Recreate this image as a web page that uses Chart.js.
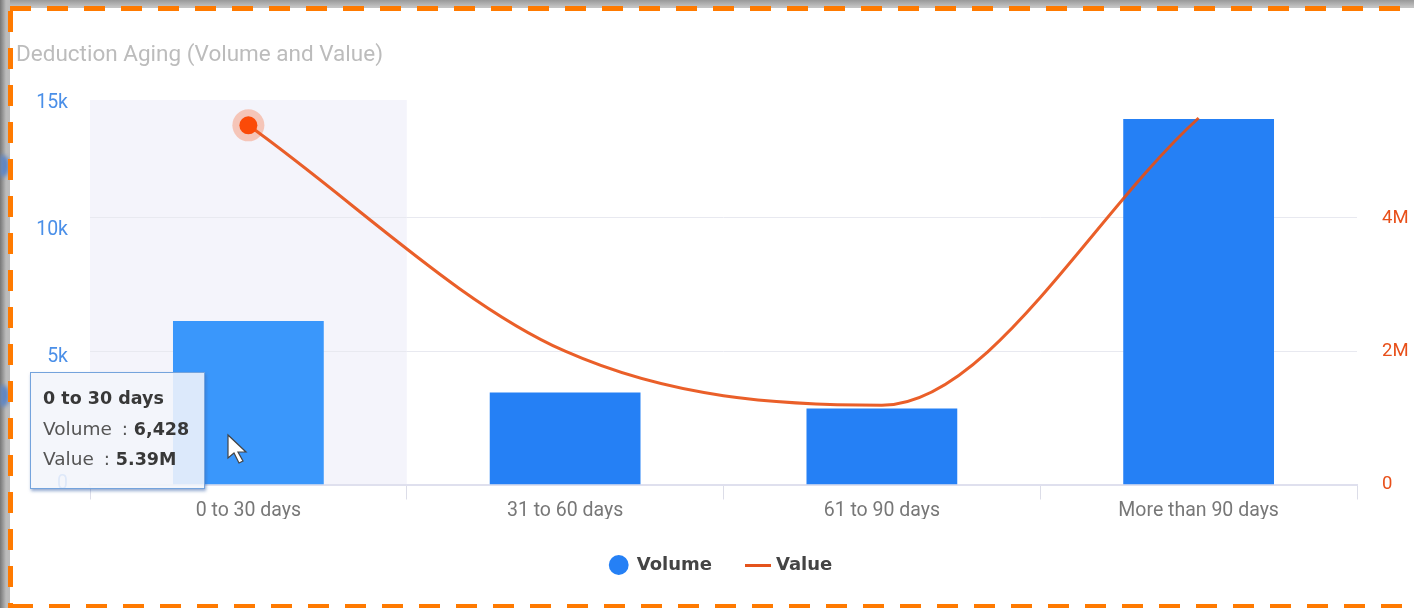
<!DOCTYPE html>
<html>
<head>
<meta charset="utf-8">
<script src="https://cdn.jsdelivr.net/npm/chart.js@4"></script>
<style>
  html, body { margin: 0; padding: 0; width: 1414px; height: 608px; overflow: hidden; background: #9a9a9a; }
  #shade { position: absolute; left: 0; top: 0; width: 1414px; height: 608px;
    background: linear-gradient(90deg, #777 0, #bbb 6px, #bbb 10px, transparent 10px),
                linear-gradient(180deg, #999 0, #c4c4c4 7px, #c4c4c4 8px, transparent 8px); }
  #card { position: absolute; left: 10px; top: 8px; width: 1404px; height: 600px; background: #fff; }
  canvas { position: absolute; left: 0; top: 0; }
  .dash { position: absolute; }
  .blob { position: absolute; left: 0; width: 9px; height: 22px; border-radius: 0 8px 8px 0; background: #5f86c4; filter: blur(2px); }
  #dashTop { left: 10px; top: 6px; width: 1404px; height: 5px;
    background: repeating-linear-gradient(90deg, #ff7a00 0 21px, transparent 21px 37px); }
  #dashBottom { left: 12px; top: 604px; width: 1402px; height: 4px;
    background: repeating-linear-gradient(90deg, #ff7a00 0 21px, transparent 21px 37px); }
  #dashLeft { left: 8px; top: 11px; width: 5px; height: 597px;
    background: repeating-linear-gradient(180deg, #ff7a00 0 21px, transparent 21px 37px); }
  #tip { position: absolute; left: 30px; top: 372px; width: 175px; height: 117px; box-sizing: border-box;
    padding: 10px 12px; background: rgba(243,245,251,0.88); border: 1.5px solid #74a3dc;
    box-shadow: 1px 2px 3px rgba(60,100,170,0.55); font: 18.5px/30.5px "DejaVu Sans", sans-serif; color: #555; white-space: nowrap; }
  #tip b { color: #383838; font-size: 17.5px; }
  #tip i { font-style: normal; margin-left: 4px; }
  #cursor { position: absolute; left: 226px; top: 433px; }
</style>
</head>
<body>
<div id="shade"></div>
<div class="blob" style="top:155px"></div>
<div class="blob" style="top:385px"></div>
<div id="card"></div>
<canvas id="chart" width="1414" height="608"></canvas>
<div class="dash" id="dashTop"></div>
<div class="dash" id="dashBottom"></div>
<div class="dash" id="dashLeft"></div>
<div id="tip"></div>
<svg id="cursor" width="24" height="32"><path d="M2 2 L2 25 L8 20 L13 30 L17 28 L12 19 L20 19 Z" fill="#fff" stroke="#444" stroke-width="1.2"/></svg>
<script>
const categories = ["0 to 30 days", "31 to 60 days", "61 to 90 days", "More than 90 days"];
const volume = [6428, 3620, 2990, 14370];
const value = [5390000, 2000000, 1190000, 5500000];
const volumeTicks = [0, 5000, 10000, 15000];
const valueTicks = [0, 2000000, 4000000];
const hoverIndex = 0;

const orange = "rgba(232,78,18,0.9)";

// legend swatch for the line series is wider than the circle
const lineSwatch = document.createElement("canvas");
lineSwatch.width = 26;
lineSwatch.height = 4;
const sw = lineSwatch.getContext("2d");
sw.fillStyle = "#e4531c";
sw.fillRect(0, 1, 26, 3);

const hoverPlugin = {
  id: "hoverPlugin",
  afterLayout(chart) {
    // legend sits right of the page centre in the original
    chart.legend.left += 9;
    chart.legend.right += 9;
  },
  beforeDraw(chart) {
    const { ctx, chartArea, scales } = chart;
    const step = scales.x.width / categories.length;
    const cx = scales.x.getPixelForValue(hoverIndex);
    ctx.save();
    ctx.fillStyle = "#f4f4fb";
    ctx.fillRect(cx - step / 2, chartArea.top, step, chartArea.bottom - chartArea.top);
    ctx.restore();
  },
  afterDatasetsDraw(chart) {
    const pt = chart.getDatasetMeta(1).data[hoverIndex];
    const ctx = chart.ctx;
    ctx.save();
    ctx.fillStyle = "rgba(248,90,30,0.3)";
    ctx.beginPath();
    ctx.arc(pt.x, pt.y, 16, 0, Math.PI * 2);
    ctx.fill();
    ctx.fillStyle = "#fb4a08";
    ctx.beginPath();
    ctx.arc(pt.x, pt.y, 9, 0, Math.PI * 2);
    ctx.fill();
    ctx.restore();
  }
};

new Chart(document.getElementById("chart"), {
  data: {
    labels: categories,
    datasets: [
      {
        type: "bar",
        label: "Volume",
        data: volume,
        yAxisID: "yVolume",
        order: 2,
        backgroundColor: (c) => (c.dataIndex === hoverIndex ? "#3a97fb" : "#2580f5"),
        categoryPercentage: 1,
        barPercentage: 0.476
      },
      {
        type: "line",
        label: "Value",
        data: value,
        yAxisID: "yValue",
        order: 1,
        borderColor: orange,
        borderWidth: 3,
        cubicInterpolationMode: "monotone",
        pointRadius: 0,
        fill: false
      }
    ]
  },
  options: {
    responsive: false,
    animation: false,
    devicePixelRatio: 1,
    layout: { padding: { left: 16, right: 6, top: 0, bottom: 24 } },
    plugins: {
      tooltip: { enabled: false },
      title: {
        display: true,
        text: "Deduction Aging (Volume and Value)",
        align: "start",
        color: "#bcbcbc",
        font: { family: "Roboto", size: 22.5, weight: "normal" },
        padding: { top: 42, bottom: 31 }
      },
      legend: {
        position: "bottom",
        labels: {
          usePointStyle: true,
          boxHeight: 14,
          boxWidth: 26,
          padding: 37,
          color: "#444",
          font: { family: "DejaVu Sans", size: 18, weight: "bold" },
          sort: (a, b) => a.datasetIndex - b.datasetIndex,
          generateLabels(chart) {
            return Chart.defaults.plugins.legend.labels.generateLabels(chart).map((l) => {
              if (l.text === "Value") {
                l.pointStyle = lineSwatch;
              } else {
                l.pointStyle = "circle";
                l.fillStyle = "#2580f5";
                l.strokeStyle = "#2580f5";
              }
              return l;
            });
          }
        }
      }
    },
    scales: {
      x: {
        afterFit(axis) { axis.height = 34.5; },
        grid: { offset: true, drawOnChartArea: false, tickLength: 15, tickColor: "#dcdde8" },
        border: { color: "#dfe0ee", width: 2 },
        ticks: { color: "#777", padding: 0, maxRotation: 0, font: { family: "Roboto", size: 19.5 } }
      },
      yVolume: {
        position: "left",
        min: 0,
        max: 15120,
        afterFit(axis) { axis.width = 74; },
        afterBuildTicks(axis) { axis.ticks = volumeTicks.map((v) => ({ value: v })); },
        grid: { display: false },
        border: { display: false },
        ticks: {
          color: "#4a8fe8",
          padding: 14,
          font: { family: "Roboto", size: 19.5 },
          callback: (v) => (v === 0 ? "0" : v / 1000 + "k")
        }
      },
      yValue: {
        position: "right",
        min: 0,
        max: 5770000,
        afterFit(axis) { axis.width = 51; },
        afterBuildTicks(axis) { axis.ticks = valueTicks.map((v) => ({ value: v })); },
        grid: { color: "#e8e9f0", drawTicks: false },
        border: { display: false },
        ticks: {
          color: "#e8501a",
          padding: 25,
          font: { family: "Roboto", size: 18.5 },
          callback: (v) => (v === 0 ? "0" : v / 1000000 + "M")
        }
      }
    }
  },
  plugins: [hoverPlugin]
});

document.getElementById("tip").innerHTML =
  "<b>" + categories[hoverIndex] + "</b><br>" +
  "Volume <i>:</i> <b>" + volume[hoverIndex].toLocaleString("en-US") + "</b><br>" +
  "Value <i>:</i> <b>" + (value[hoverIndex] / 1000000).toFixed(2) + "M</b>";
</script>
</body>
</html>
